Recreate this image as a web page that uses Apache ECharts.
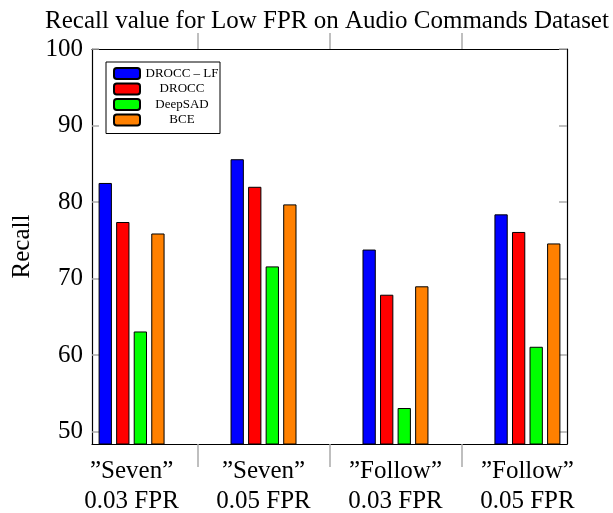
<!DOCTYPE html>
<html>
<head>
<meta charset="utf-8">
<script src="https://cdn.jsdelivr.net/npm/echarts@6/dist/echarts.min.js"></script>
<style>html,body{margin:0;padding:0;background:#fff;}#c{width:613px;height:513px;}</style>
</head>
<body>
<div id="c"></div>
<script>
const categories = ['”Seven”\n0.03 FPR', '”Seven”\n0.05 FPR', '”Follow”\n0.03 FPR', '”Follow”\n0.05 FPR'];
const seriesNames = ['DROCC – LF', 'DROCC', 'DeepSAD', 'BCE'];
const droccLF = [82.5, 85.6, 73.8, 78.4];
const drocc = [77.4, 82.0, 67.9, 76.1];
const deepSAD = [63.1, 71.6, 53.1, 61.1];
const bce = [75.9, 79.7, 69.0, 74.6];
const yTicks = [50, 60, 70, 80, 90, 100];
const colors = ['#0000ff', '#ff0000', '#00ff00', '#ff8000'];

const allValues = [droccLF, drocc, deepSAD, bce];
const catPos = categories.map((c, i) => i);
const sepPos = categories.slice(1).map((c, i) => i + 0.5);
const serif = '"Liberation Serif", "DejaVu Serif", serif';
const xMin = -0.3, xMax = categories.length - 1 + 0.3;

const chart = echarts.init(document.getElementById('c'), null, {renderer: 'canvas'});
chart.setOption({
  animation: false,
  title: {
    text: 'Recall value for Low FPR on Audio Commands Dataset',
    left: 322, top: 4, textAlign: 'center',
    textStyle: {fontFamily: serif, fontSize: 25, fontWeight: 'normal', color: '#000'}
  },
  legend: {
    left: 106, top: 62, orient: 'vertical',
    padding: [5, 1, 7, 7],
    itemWidth: 26, itemHeight: 11, itemGap: 2.5,
    borderColor: '#000', borderWidth: 1, borderRadius: 0,
    backgroundColor: '#fff',
    data: seriesNames,
    formatter: n => '{a|' + n + '}',
    textStyle: {
      rich: {a: {fontFamily: serif, fontSize: 13, color: '#000', width: 74, align: 'center', lineHeight: 13}}
    }
  },
  grid: {left: 92, right: 46, top: 49, bottom: 69, containLabel: false, outerBoundsMode: 'none'},
  xAxis: [{
    type: 'value', min: xMin, max: xMax, position: 'bottom',
    splitLine: {show: false},
    axisLine: {show: true, onZero: false, lineStyle: {color: '#000', width: 1.2}},
    axisTick: {show: true, customValues: sepPos, length: 23, inside: false, lineStyle: {color: '#aaa', width: 1.5}},
    axisLabel: {
      customValues: catPos, margin: 12,
      formatter: v => categories[Math.round(v)],
      fontFamily: serif, fontSize: 25, color: '#000', lineHeight: 30
    }
  }, {
    type: 'value', min: xMin, max: xMax, position: 'top',
    splitLine: {show: false},
    axisLine: {show: true, onZero: false, lineStyle: {color: '#000', width: 1.2}},
    axisTick: {show: true, customValues: sepPos, length: 16, inside: false, lineStyle: {color: '#aaa', width: 1.5}},
    axisLabel: {show: false}
  }],
  yAxis: [{
    type: 'value', min: 48.4, max: 100, position: 'left',
    name: 'Recall', nameLocation: 'middle', nameGap: 57, nameRotate: 90,
    nameTextStyle: {fontFamily: serif, fontSize: 25, color: '#000'},
    splitLine: {show: false},
    axisLine: {show: true, onZero: false, lineStyle: {color: '#000', width: 1.2}},
    axisTick: {show: true, customValues: yTicks, inside: true, length: 7, lineStyle: {color: '#aaa', width: 1.5}},
    axisLabel: {customValues: yTicks, margin: 9, fontFamily: serif, fontSize: 25, color: '#000'}
  }, {
    type: 'value', min: 48.4, max: 100, position: 'right',
    splitLine: {show: false},
    axisLine: {show: true, onZero: false, lineStyle: {color: '#000', width: 1.2}},
    axisTick: {show: true, customValues: yTicks, inside: true, length: 8, lineStyle: {color: '#aaa', width: 1.5}},
    axisLabel: {show: false}
  }],
  series: seriesNames.map((name, s) => ({
    name: name, type: 'bar',
    xAxisIndex: 0, yAxisIndex: 0,
    barWidth: 13.3, barGap: '32%',
    itemStyle: {color: colors[s], borderColor: '#000', borderWidth: 1},
    data: allValues[s].map((v, i) => [catPos[i], v])
  }))
});
</script>
</body>
</html>
